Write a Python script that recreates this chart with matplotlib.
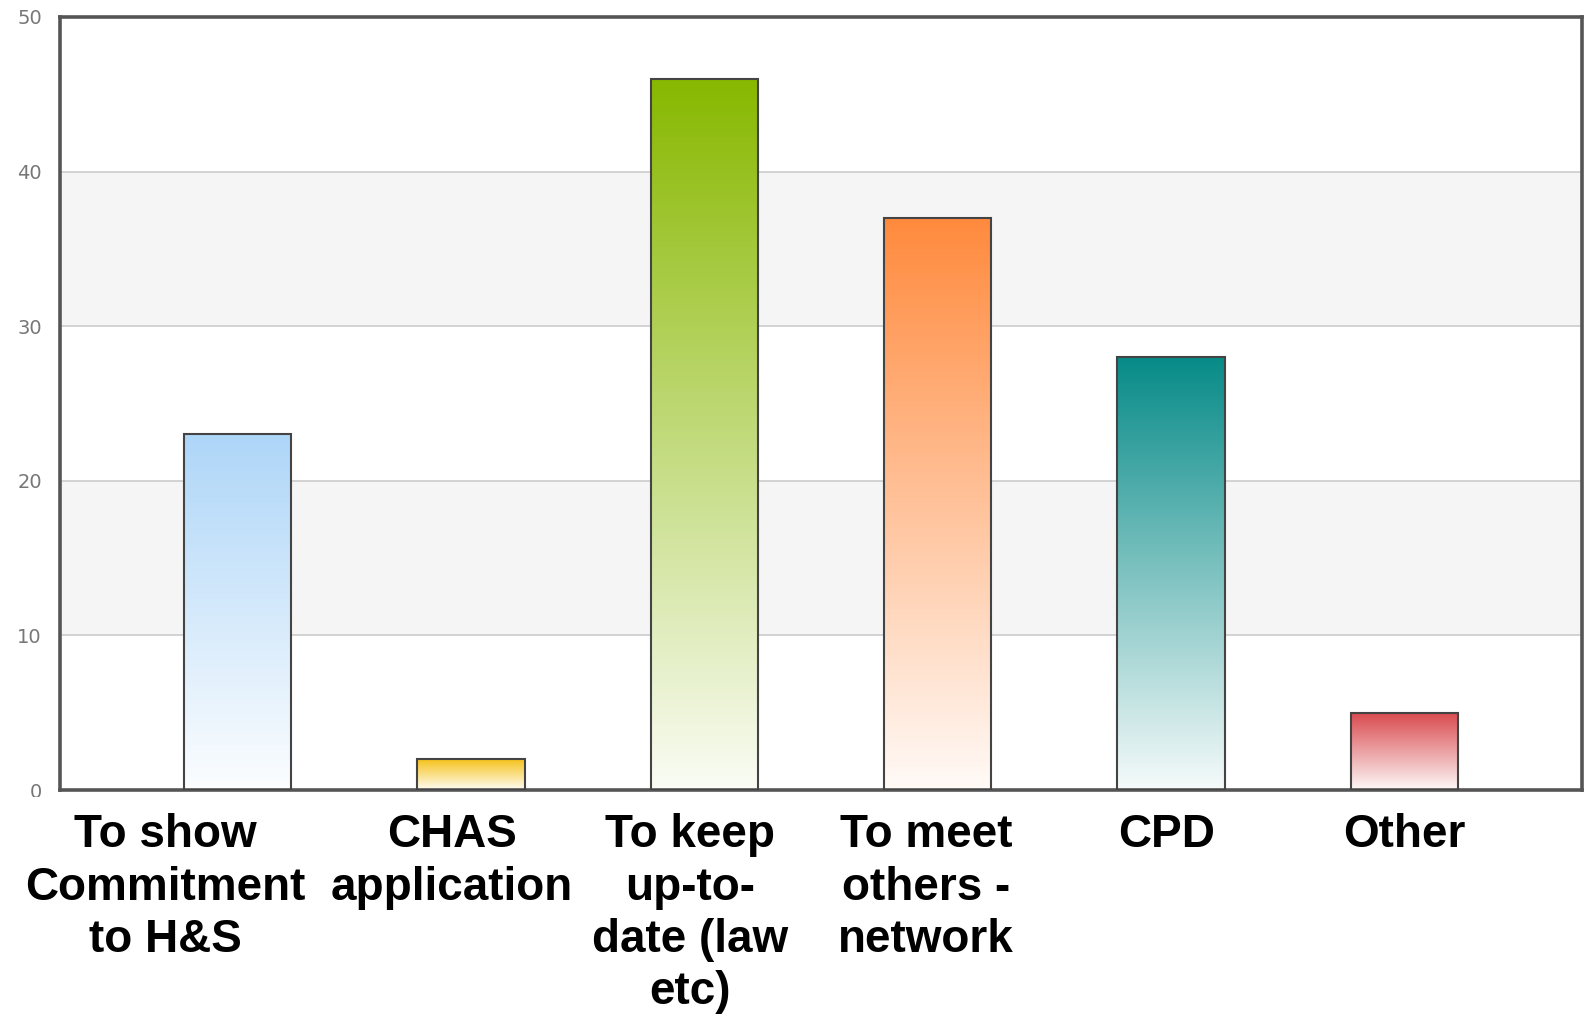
import numpy as np
import matplotlib
matplotlib.use("Agg")
import matplotlib.pyplot as plt
from matplotlib.colors import to_rgb
from matplotlib.patches import Rectangle
from matplotlib.transforms import blended_transform_factory

# reasons for attending, survey counts
categories = ["To show\nCommitment\nto H&S", "CHAS\napplication",
              "To keep\nup-to-\ndate (law\netc)", "To meet\nothers -\nnetwork",
              "CPD", "Other"]
counts = [23, 2, 46, 37, 28, 5]
top_colors = ["#aed6f8", "#f5c21b", "#88b800", "#ff8a3d", "#078b88", "#d94a4e"]
y_ticks = [0, 10, 20, 30, 40, 50]

# label centres (in bar units), a little left of the bars
label_x = [-0.31, 0.92, 1.94, 2.95, 3.98, 5.0]

W, H = 1585, 1023
fig = plt.figure(figsize=(W / 100, H / 100), dpi=100)
ax = fig.add_axes([60 / W, 1 - 790 / H, (1582 - 60) / W, (790 - 17) / H])

x = np.arange(len(counts))
bars = ax.bar(x, counts, width=0.46, facecolor="none", edgecolor="#444444",
              linewidth=1.5, zorder=3)

# vertical gradient inside each bar: colour at top fading to near white
for rect, col in zip(bars, top_colors):
    c = np.array(to_rgb(col))
    t = np.linspace(0, 1, 256)[:, None]
    grad = c * (1 - t * 0.96) + np.ones(3) * t * 0.96
    grad = grad[:, None, :]
    x0 = rect.get_x()
    ax.imshow(grad, extent=[x0, x0 + rect.get_width(), 0, rect.get_height()],
              aspect="auto", origin="upper", zorder=2, interpolation="bilinear")

# alternating background bands and grid lines
for lo in (10, 30):
    ax.axhspan(lo, lo + 10, color="#f5f5f5", zorder=0, lw=0)
for yv in y_ticks[1:-1]:
    ax.axhline(yv, color="#cccccc", lw=1.2, zorder=1)

ax.set_xlim(-0.76, 5.76)
ax.set_ylim(0, 50)
ax.set_yticks(y_ticks)
ax.set_xticks([])
ax.tick_params(axis="y", length=0, pad=13, labelsize=14, labelcolor="#777777")
for s in ax.spines.values():
    s.set_color("#555555")
    s.set_linewidth(2.6)

# white strip under the axis that the category labels sit on
fig.add_artist(Rectangle((20 / W, 0), 1, 1 - 797 / H, transform=fig.transFigure,
                         facecolor="white", edgecolor="none", zorder=1))

trans = blended_transform_factory(ax.transData, fig.transFigure)
for lx, lab in zip(label_x, categories):
    fig.text(lx, 1 - 813 / H, lab, ha="center", va="top", multialignment="center",
             fontsize=33, fontweight="bold", linespacing=1.25, zorder=3,
             family=["Liberation Sans", "DejaVu Sans"], transform=trans)

fig.savefig("out.png", dpi=100, facecolor="white")
